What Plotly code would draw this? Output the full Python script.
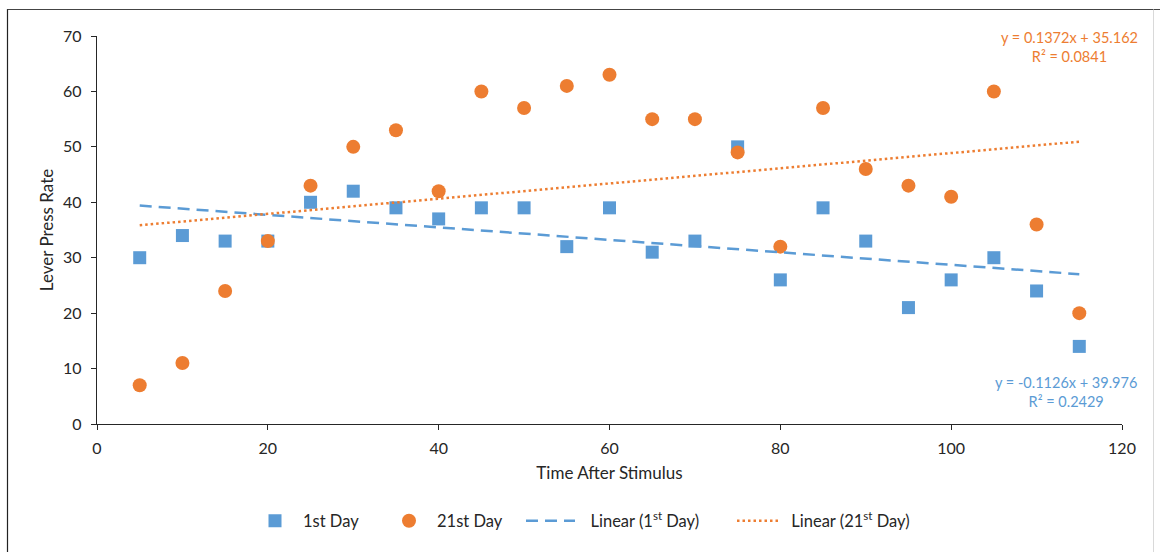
import plotly.graph_objects as go

# Minutes after stimulus
time_min = [5, 10, 15, 20, 25, 30, 35, 40, 45, 50, 55, 60,
            65, 70, 75, 80, 85, 90, 95, 100, 105, 110, 115]

# Lever presses per interval
day1 = [30, 34, 33, 33, 40, 42, 39, 37, 39, 39, 32, 39,
        31, 33, 50, 26, 39, 33, 21, 26, 30, 24, 14]
day21 = [7, 11, 24, 33, 43, 50, 53, 42, 60, 57, 61, 63,
         55, 55, 49, 32, 57, 46, 43, 41, 60, 36, 20]

# Linear trendline coefficients (slope, intercept, R²)
fit_day1 = (-0.1126, 39.976, 0.2429)
fit_day21 = (0.1372, 35.162, 0.0841)

BLUE = "#5B9BD5"
ORANGE = "#ED7D31"
INK = "#262626"
FONT = "Lato"
NBSP = "\u00a0"
THIN = "\u2009"

W, H = 1160, 552
L, R, T, B = 97, 1122, 36, 424          # plot area edges in pixels
PW, PH = R - L, B - T


def px_x(p):
    return (p - L) / PW


def px_y(p):
    return (B - p) / PH


x_ends = [min(time_min), max(time_min)]
trend1 = [fit_day1[0] * x + fit_day1[1] for x in x_ends]
trend21 = [fit_day21[0] * x + fit_day21[1] for x in x_ends]

fig = go.Figure()
fig.add_trace(go.Scatter(
    x=time_min, y=day1, mode="markers", name="1st Day", legend="legend",
    marker=dict(symbol="square", size=13, color=BLUE),
))
fig.add_trace(go.Scatter(
    x=time_min, y=day21, mode="markers", name="21st Day", legend="legend2",
    marker=dict(symbol="circle", size=14, color=ORANGE),
))
fig.add_trace(go.Scatter(
    x=x_ends, y=trend1, mode="lines", legend="legend3",
    name=NBSP * 2 + THIN + "Linear (1<sup>st</sup> Day)",
    line=dict(color=BLUE, width=2.5, dash="12px,7px"),
))
fig.add_trace(go.Scatter(
    x=x_ends, y=trend21, mode="lines", legend="legend4",
    name=NBSP + THIN + "Linear (21<sup>st</sup> Day)",
    line=dict(color=ORANGE, width=2.5, dash="2.5px,3px"),
))


def eq_text(fit):
    m, b, r2 = fit
    sign = "+" if b >= 0 else "-"
    return f"y = {m:.4f}x {sign} {abs(b):.3f}<br>R² = {r2:.4f}"


for fit, color, cx, cy in [(fit_day21, ORANGE, 1069, 47), (fit_day1, BLUE, 1066, 392)]:
    fig.add_annotation(
        x=px_x(cx), y=px_y(cy), xref="paper", yref="paper",
        xanchor="center", yanchor="middle", text=eq_text(fit),
        showarrow=False, font=dict(family=FONT, size=14.5, color=color), align="center",
    )

# chart frame
fig.add_shape(type="line", xref="paper", yref="paper",
              x0=px_x(7.5), x1=px_x(7.5), y0=px_y(9), y1=px_y(560),
              line=dict(color="#222222", width=1.2))
fig.add_shape(type="line", xref="paper", yref="paper",
              x0=px_x(7.5), x1=px_x(1160), y0=px_y(9.5), y1=px_y(9.5),
              line=dict(color="#444444", width=1.2))
fig.add_shape(type="line", xref="paper", yref="paper",
              x0=px_x(1153.5), x1=px_x(1153.5), y0=px_y(9.5), y1=px_y(560),
              line=dict(color="#D9D9D9", width=1))

axis_common = dict(
    showgrid=False, zeroline=False, showline=True, linecolor=INK, linewidth=1.3,
    ticks="outside", ticklen=5, tickcolor=INK, tickwidth=1.3,
    tickfont=dict(family=FONT, size=16, color=INK),
)

legend_common = dict(
    orientation="h", xanchor="left", yanchor="middle", y=px_y(521),
    font=dict(family=FONT, size=16.5, color=INK), bgcolor="rgba(0,0,0,0)",
)

fig.update_layout(
    width=W, height=H,
    margin=dict(l=L, r=W - R, t=T, b=H - B),
    paper_bgcolor="white", plot_bgcolor="white",
    font=dict(family=FONT, color=INK),
    xaxis=dict(range=[0, 120], dtick=20, ticklabelstandoff=5,
               title=dict(text="Time After Stimulus", font=dict(family=FONT, size=17), standoff=10),
               **axis_common),
    yaxis=dict(range=[0, 70], dtick=10, ticklabelstandoff=6,
               title=dict(text="Lever Press Rate", font=dict(family=FONT, size=17), standoff=5),
               **axis_common),
    legend=dict(x=px_x(277 - 30), itemwidth=46, **legend_common),
    legend2=dict(x=px_x(411 - 30), itemwidth=46, **legend_common),
    legend3=dict(x=px_x(528 - 7), itemwidth=49, **legend_common),
    legend4=dict(x=px_x(739 - 7), itemwidth=43, **legend_common),
    showlegend=True,
)

fig.write_html("out.html")
